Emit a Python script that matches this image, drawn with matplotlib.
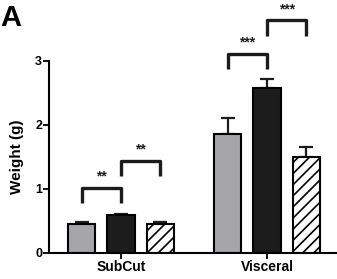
import matplotlib.pyplot as plt
import numpy as np

plt.rcParams['font.family'] = ['Liberation Sans', 'DejaVu Sans']
plt.rcParams['hatch.linewidth'] = 1.2

# data
groups = ["SubCut", "Visceral"]
means_gray = [0.45, 1.86]
means_black = [0.59, 2.58]
means_hatch = [0.45, 1.50]
err_gray = [0.03, 0.24]
err_black = [0.02, 0.13]
err_hatch = [0.03, 0.16]

# significance brackets: (group, left bar, right bar, height, label)
brackets = [
    (0, 0, 1, 1.02, "**"),
    (0, 1, 2, 1.44, "**"),
    (1, 0, 1, 3.11, "***"),
    (1, 1, 2, 3.63, "***"),
]

fig = plt.figure(figsize=(3.37, 2.79), dpi=100)
ax = fig.add_axes([0.1454, 0.0932, 0.8546, 0.907])

x = np.arange(len(groups))
w = 0.19
off = 0.27
offsets = [-off, 0, off]

ax.bar(x - off, means_gray, w, color="#a6a6a8", edgecolor="black", linewidth=1.5, zorder=2)
ax.bar(x, means_black, w, color="#1c1c1c", edgecolor="black", linewidth=1.5, zorder=2)
ax.bar(x + off, means_hatch, w, color="white", edgecolor="black", linewidth=1.5,
       hatch="///", zorder=2)

for xs, m, e in [(x - off, means_gray, err_gray), (x, means_black, err_black),
                 (x + off, means_hatch, err_hatch)]:
    ax.errorbar(xs, m, yerr=[np.zeros(len(e)), e], fmt="none", ecolor="#1c1c1c",
                elinewidth=1.6, capsize=5, capthick=1.6, zorder=1)

for g, i, j, h, lab in brackets:
    x1 = x[g] + offsets[i]
    x2 = x[g] + offsets[j]
    leg = 0.24
    ax.plot([x1, x1, x2, x2], [h - leg, h, h, h - leg], color="#1c1c1c", lw=2.4,
            solid_joinstyle="round", solid_capstyle="butt")
    ax.text((x1 + x2) / 2, h + 0.06, lab, ha="center", va="bottom", fontsize=10,
            fontweight="bold", color="#1c1c1c")

ax.set_xlim(-0.493, 1.479)
ax.set_ylim(0, 3.95)
ax.set_yticks([0, 1, 2, 3])
ax.set_xticks(x)
ax.set_xticklabels(groups, fontsize=10, fontweight="bold")
for t in ax.get_yticklabels():
    t.set_fontweight("bold")
    t.set_fontsize(9)
ax.set_ylabel("Weight (g)", fontsize=11, fontweight="bold")
# centre the label on the drawn part of the spine (0 to 3)
ax.yaxis.set_label_coords(-0.088, 1.5 / 3.95)

ax.spines["top"].set_visible(False)
ax.spines["right"].set_visible(False)
ax.spines["left"].set_bounds(0, 3)
ax.spines["left"].set_linewidth(1.5)
ax.spines["bottom"].set_linewidth(1.5)
ax.tick_params(axis="both", width=1.3, length=4, pad=1)

fig.text(0.0, 0.985, "A", fontsize=21, fontweight="bold", va="top", ha="left")

fig.savefig("out.png", dpi=100)
